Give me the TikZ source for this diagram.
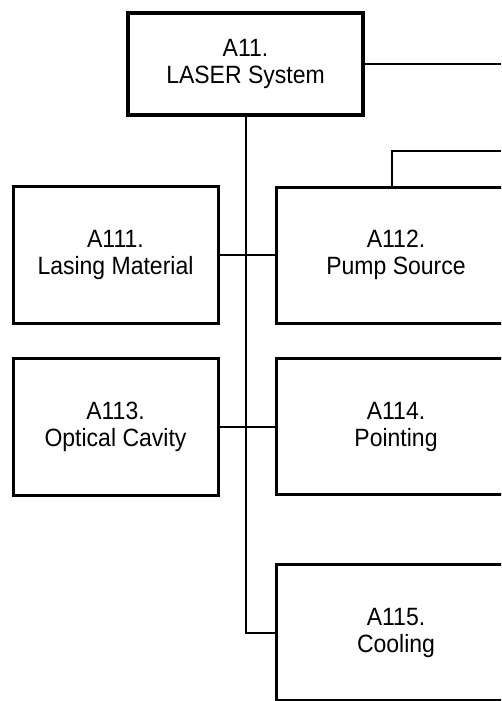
\documentclass[tikz,border=0pt]{standalone}
\usepackage{fontspec}
\newfontfamily\boxfont[FakeStretch=0.92]{Liberation Sans}
\usepackage{tikz}
\usetikzlibrary{calc, positioning}

\tikzset{
  blk/.style={draw, line width=3pt, align=center, inner sep=0pt,
    font=\boxfont\fontsize{25}{27}\selectfont},
  lblk/.style={blk, minimum width=205pt, minimum height=137pt},
  rblk/.style={blk, minimum width=240pt, minimum height=136pt},
  link/.style={line width=2pt}
}

\begin{document}
\begin{tikzpicture}[x=1pt, y=-1pt]
  \useasboundingbox (0,0) rectangle (501,701);
  \clip (0,0) rectangle (501,701);
  % top box
  \node[blk, line width=3.5pt, minimum width=235pt, minimum height=102pt] (A11) at (245.5,64) {A11.\\LASER System};
  % sub boxes
  \node[lblk] (A111) at (115.5,255) {A111.\\Lasing Material};
  \node[rblk] (A112) at (396,255) {A112.\\Pump Source};
  \node[lblk] (A113) at (115.5,426.5) {A113.\\Optical Cavity};
  \node[rblk] (A114) at (396,426.5) {A114.\\Pointing};
  \node[rblk] (A115) at (396,632.5) {A115.\\Cooling};
  % edge of page and feed point
  \coordinate (rim) at (501,0);
  \coordinate (feed) at (392,151);
  % connectors
  \draw[link] (A11.south) |- (A115.west);
  \draw[link] (A111.east) -- (A112.west);
  \draw[link] (A113.east) -- (A114.west);
  \draw[link] (A11.east) -- (A11.east -| rim);
  \draw[link] (A112.north -| feed) |- (feed -| rim);
\end{tikzpicture}
\end{document}
